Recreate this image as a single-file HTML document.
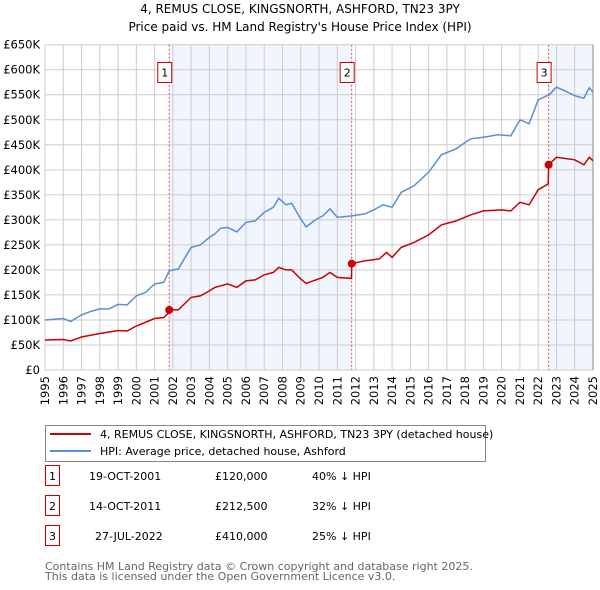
<!DOCTYPE html>
<html><head><meta charset="utf-8">
<style>
body{margin:0;background:#fff;font-family:"DejaVu Sans","Liberation Sans",sans-serif;}
#wrap{position:relative;width:600px;height:590px;overflow:hidden;}
</style></head>
<body><div id="wrap">
<svg id="chart" width="600" height="590" xmlns="http://www.w3.org/2000/svg" style="font-family:'DejaVu Sans','Liberation Sans',sans-serif"></svg>
</div>
<script>
const hpiYears=[1995,1996,1996.4,1997,1997.5,1998,1998.5,1999,1999.5,2000,2000.5,2001,2001.5,2001.8,2002.3,2003,2003.5,2004,2004.3,2004.6,2005,2005.5,2006,2006.5,2007,2007.5,2007.8,2008.2,2008.5,2009,2009.3,2009.8,2010.2,2010.6,2011,2011.8,2012.5,2013,2013.5,2014,2014.5,2015.2,2016,2016.7,2017.5,2018.3,2019,2019.8,2020.5,2021,2021.5,2022,2022.6,2023,2023.5,2024,2024.5,2024.8,2025];
const hpiValues=[100,103,97,110,117,122,122,131,130,148,155,172,175,198,202,245,250,265,272,283,285,276,295,298,315,325,343,330,333,302,286,300,308,322,305,308,312,320,330,325,355,368,395,430,442,462,465,470,468,500,492,540,550,565,557,548,543,564,555];
const priceYears=[1995,1996,1996.4,1997,1998,1999,1999.5,2000,2001,2001.5,2001.79,2001.8,2002.3,2003,2003.5,2004,2004.3,2005,2005.5,2006,2006.5,2007,2007.5,2007.8,2008.2,2008.5,2009,2009.3,2010.2,2010.6,2011,2011.78,2011.79,2012.5,2013.3,2013.7,2014,2014.5,2015.2,2016,2016.7,2017.5,2018.3,2019,2020,2020.5,2021,2021.5,2022,2022.55,2022.57,2023,2024,2024.5,2024.8,2025];
const priceValues=[60,61,58,66,73,79,78,88,103,105,115,120,120,145,148,158,165,172,165,178,180,190,195,205,200,200,182,173,185,195,185,183,212.5,218,222,235,225,245,255,270,290,298,310,318,320,318,335,330,360,372,410,425,420,410,425,418];
const saleYears=[2001.8,2011.79,2022.57];
const saleValues=[120,212.5,410];
const saleLabels=["1","2","3"];
const yTicks=[0,50,100,150,200,250,300,350,400,450,500,550,600,650];
const yTickLabels=["£0","£50K","£100K","£150K","£200K","£250K","£300K","£350K","£400K","£450K","£500K","£550K","£600K","£650K"];
const xTicks=[1995,1996,1997,1998,1999,2000,2001,2002,2003,2004,2005,2006,2007,2008,2009,2010,2011,2012,2013,2014,2015,2016,2017,2018,2019,2020,2021,2022,2023,2024,2025];

const L=45,R=593,T=44.7,B=370;
const X=y=>L+(y-1995)/30*(R-L);
const Y=v=>B-v/650*(B-T);
const svg=document.getElementById('chart');
const NS='http://www.w3.org/2000/svg';
function mk(tag,attrs,parent){const e=document.createElementNS(NS,tag);for(const k in attrs)e.setAttribute(k,attrs[k]);(parent||svg).appendChild(e);return e;}

let s1=mk('rect',{x:X(saleYears[0]),y:T,width:X(saleYears[1])-X(saleYears[0]),height:B-T,fill:'#eef2fc',opacity:0.8});


let s2=mk('rect',{x:X(saleYears[2]),y:T,width:R-X(saleYears[2]),height:B-T,fill:'#eef2fc',opacity:0.8});



xTicks.forEach((t,i)=>{
  let g=mk('line',{x1:X(t),x2:X(t),y1:T,y2:B,stroke:'#cccccc','stroke-width':1});
  
  
  let tx=mk('text',{x:0,y:0,transform:`translate(${X(t)+4},${B+6}) rotate(-90)`,'text-anchor':'end','font-size':11.5,fill:'#000'});
  tx.textContent=t;
  
  
});
yTicks.forEach((t,i)=>{
  let g=mk('line',{x1:L,x2:R,y1:Y(t),y2:Y(t),stroke:'#cccccc','stroke-width':1});
  
  
  let tx=mk('text',{x:L-5,y:Y(t)+4,'text-anchor':'end','font-size':11.5,fill:'#000'});
  tx.textContent=yTickLabels[i];
  
  
});
let rb=mk('line',{x1:R,x2:R,y1:T,y2:B,stroke:'#888','stroke-width':1});



saleYears.forEach((s,i)=>{
  let l=mk('line',{x1:X(s),x2:X(s),y1:T,y2:B,stroke:'#e05050','stroke-width':1,'stroke-dasharray':'2,2'});
  
  
  let bx=mk('rect',{x:X(s)-11.5,y:62.5,width:14,height:20,fill:'#fff',stroke:'#cc0000','stroke-width':1});
  
  
  let t=mk('text',{x:X(s)-4.5,y:76.5,'text-anchor':'middle','font-size':11,fill:'#000'});
  t.textContent=saleLabels[i];
  
  
});

let hp=mk('path',{d:hpiYears.map((y,i)=>(i?'L':'M')+X(y).toFixed(1)+','+Y(hpiValues[i]).toFixed(1)).join(''),fill:'none',stroke:'#5b8ed6','stroke-width':1.5});


let pp=mk('path',{d:priceYears.map((y,i)=>(i?'L':'M')+X(y).toFixed(1)+','+Y(priceValues[i]).toFixed(1)).join(''),fill:'none',stroke:'#cc0000','stroke-width':1.5});


saleYears.forEach((s,i)=>{
  let c=mk('circle',{cx:X(s),cy:Y(saleValues[i]),r:4,fill:'#cc0000'});
  
  
});

let t1=mk('text',{x:300,y:13,'text-anchor':'middle','font-size':12,fill:'#000'});
t1.textContent='4, REMUS CLOSE, KINGSNORTH, ASHFORD, TN23 3PY';


let t2=mk('text',{x:300,y:31,'text-anchor':'middle','font-size':12,fill:'#000'});
t2.textContent="Price paid vs. HM Land Registry's House Price Index (HPI)";



let lg=mk('rect',{x:45.5,y:425.5,width:440,height:36,fill:'#fff',stroke:'#888','stroke-width':1});


let l1=mk('line',{x1:50,x2:91,y1:434,y2:434,stroke:'#cc0000','stroke-width':2});


let lt1=mk('text',{x:100,y:438,'font-size':11,fill:'#000'});
lt1.textContent='4, REMUS CLOSE, KINGSNORTH, ASHFORD, TN23 3PY (detached house)';


let l2=mk('line',{x1:50,x2:91,y1:451,y2:451,stroke:'#5b8ed6','stroke-width':2});


let lt2=mk('text',{x:100,y:455,'font-size':11,fill:'#000'});
lt2.textContent='HPI: Average price, detached house, Ashford';



const rows=[["1","19-OCT-2001","£120,000","40% ↓ HPI"],["2","14-OCT-2011","£212,500","32% ↓ HPI"],["3","27-JUL-2022","£410,000","25% ↓ HPI"]];
rows.forEach((r,i)=>{
  const y=483+i*30;
  let b=mk('rect',{x:45.5,y:y-17.5,width:14,height:20,fill:'#fff',stroke:'#cc0000','stroke-width':1});
  
  
  let a=mk('text',{x:52.5,y:y-3,'text-anchor':'middle','font-size':11,fill:'#000'});a.textContent=r[0];
  
  
  let d=mk('text',{x:i==2?95:89,y:y-3,'font-size':11,fill:'#000'});d.textContent=r[1];
  
  
  let p=mk('text',{x:215,y:y-3,'font-size':11,fill:'#000'});p.textContent=r[2];
  
  
  let h=mk('text',{x:312,y:y-3,'font-size':11,fill:'#000'});h.textContent=r[3];
  
  
});
let f1=mk('text',{x:45,y:570,'font-size':11,fill:'#666'});
f1.textContent='Contains HM Land Registry data © Crown copyright and database right 2025.';


let f2=mk('text',{x:45,y:580,'font-size':11,fill:'#666'});
f2.textContent='This data is licensed under the Open Government Licence v3.0.';


</script>
</body></html>
